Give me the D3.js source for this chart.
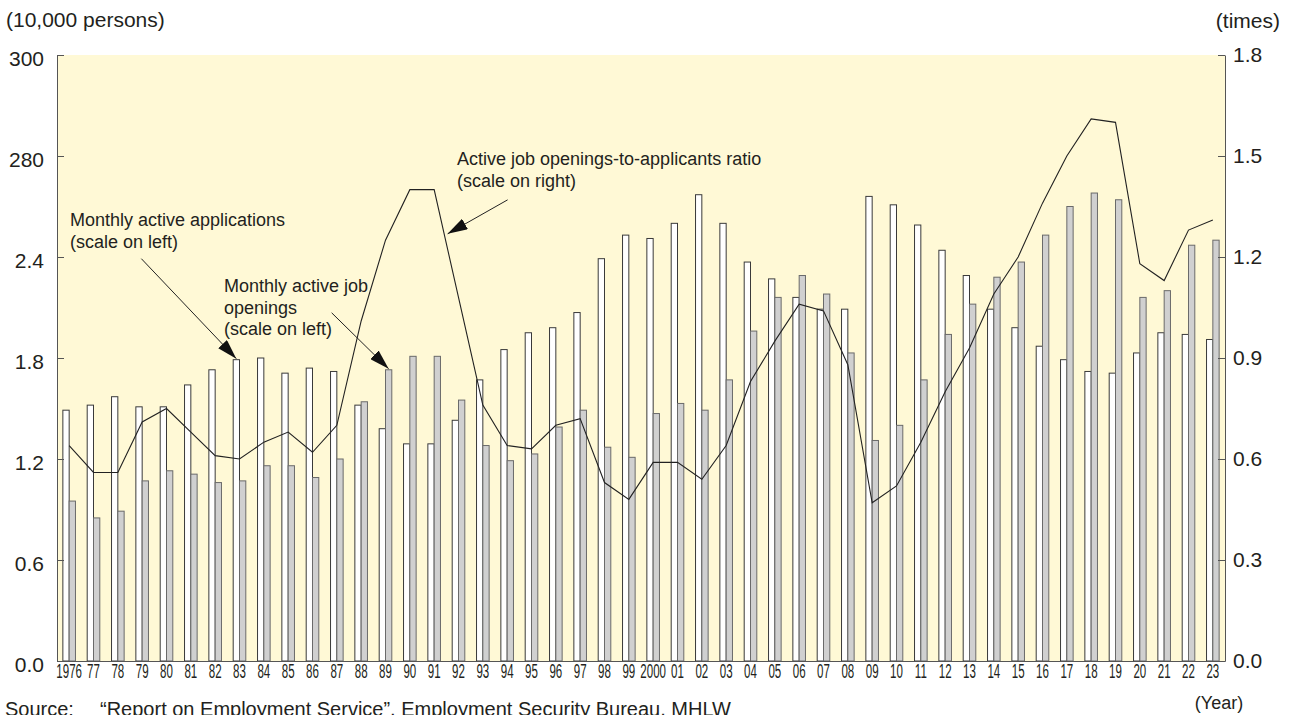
<!DOCTYPE html>
<html>
    <head>
        <title>Active job openings and applications</title>
        <script src="https://d3js.org/d3.v7.min.js"></script>
        <style>
            body {
                margin: 0;
                background-color: white;
            }
            #myCanvas text {
                font-family: "Liberation Sans", Arial, sans-serif;
                fill: #231f20;
            }
            .note {
                font-size: 18px;
            }
        </style>
    </head>

    <body>
        <svg id="myCanvas" width="1293" height="715"></svg>

        <script>
            // values, persons in units of 10,000
            years = d3.range(1976, 2024)
            yearLabels = ["1976", "77", "78", "79", "80", "81", "82", "83", "84", "85", "86", "87", "88", "89",
                          "90", "91", "92", "93", "94", "95", "96", "97", "98", "99", "2000", "01", "02", "03",
                          "04", "05", "06", "07", "08", "09", "10", "11", "12", "13", "14", "15", "16", "17",
                          "18", "19", "20", "21", "22", "23"]
            applications = [149, 152, 157, 151, 151, 164, 173, 179, 180, 171, 174, 172, 152, 138,
                            129, 129, 143, 167, 185, 195, 198, 207, 239, 253, 251, 260, 277, 260,
                            237, 227, 216, 209, 209, 276, 271, 259, 244, 229, 209, 198, 187, 179,
                            172, 171, 183, 195, 194, 191]
            openings = [95, 85, 89, 107, 113, 111, 106, 107, 116, 116, 109, 120, 154, 173,
                        181, 181, 155, 128, 119, 123, 139, 149, 127, 121, 147, 153, 149, 167,
                        196, 216, 229, 218, 183, 131, 140, 167, 194, 212, 228, 237, 253, 270,
                        278, 274, 216, 220, 247, 250]
            ratio = [0.64, 0.56, 0.56, 0.71, 0.75, 0.68, 0.61, 0.60, 0.65, 0.68, 0.62, 0.70, 1.01, 1.25,
                     1.40, 1.40, 1.08, 0.76, 0.64, 0.63, 0.70, 0.72, 0.53, 0.48, 0.59, 0.59, 0.54, 0.64,
                     0.83, 0.95, 1.06, 1.04, 0.88, 0.47, 0.52, 0.65, 0.80, 0.93, 1.09, 1.20, 1.36, 1.50,
                     1.61, 1.60, 1.18, 1.13, 1.28, 1.31]

            leftTicks = [0, 60, 120, 180, 240, 300, 360]
            leftTickLabels = ["0.0", "0.6", "1.2", "1.8", "2.4", "280", "300"]
            rightTicks = [0, 0.3, 0.6, 0.9, 1.2, 1.5, 1.8]

            svg = d3.select("#myCanvas")

            // plot box (window.top is read-only, so use own names)
            pLeft = 57; pRight = 1225; pTop = 55; pBottom = 661;

            x = d3.scaleBand(years, [pLeft, pRight])
            sub = d3.scaleBand(["app", "open"], [0, x.bandwidth()]).paddingInner(0).paddingOuter(0.93)
            yL = d3.scaleLinear([0, 360], [pBottom, pTop])
            yR = d3.scaleLinear([0, 1.8], [pBottom, pTop])

            svg.append("rect")
                .attr("x", pLeft).attr("y", pTop)
                .attr("width", pRight - pLeft).attr("height", pBottom - pTop)
                .attr("fill", "#fff9d6")

            // bars
            g = svg.append("g")
            g.selectAll(".app")
                .data(years)
                .join("rect")
                .attr("class", "app")
                .attr("x", d => x(d) + sub("app"))
                .attr("y", (d, i) => yL(applications[i]))
                .attr("width", sub.bandwidth())
                .attr("height", (d, i) => pBottom - yL(applications[i]))
                .attr("fill", "white")
                .attr("stroke", "#3a3a3a")
                .attr("stroke-width", 1)

            g.selectAll(".open")
                .data(years)
                .join("rect")
                .attr("class", "open")
                .attr("x", d => x(d) + sub("open"))
                .attr("y", (d, i) => yL(openings[i]))
                .attr("width", sub.bandwidth())
                .attr("height", (d, i) => pBottom - yL(openings[i]))
                .attr("fill", "#d0d0d0")
                .attr("stroke", "#6a6a6a")
                .attr("stroke-width", 1)

            // ratio line
            line = d3.line()
                .x((d, i) => x(years[i]) + x.bandwidth() / 2)
                .y(d => yR(d))
            svg.append("path")
                .datum(ratio)
                .attr("d", line)
                .attr("fill", "none")
                .attr("stroke", "#222")
                .attr("stroke-width", 1.1)

            // axes
            axL = svg.append("g")
                .attr("transform", "translate(" + pLeft + ",0)")
                .call(d3.axisLeft(yL).tickValues(leftTicks)
                    .tickFormat((d, i) => leftTickLabels[i])
                    .tickSizeInner(-7).tickSizeOuter(0).tickPadding(13))
            axL.selectAll("text").attr("dy", "0.5em")

            axR = svg.append("g")
                .attr("transform", "translate(" + pRight + ",0)")
                .call(d3.axisRight(yR).tickValues(rightTicks)
                    .tickFormat(d3.format(".1f"))
                    .tickSizeInner(-7).tickSizeOuter(0).tickPadding(8))

            axB = svg.append("g")
                .attr("transform", "translate(0," + pBottom + ")")
                .call(d3.axisBottom(x).tickSize(0).tickPadding(2)
                    .tickFormat((d, i) => yearLabels[i]))
            axB.selectAll("text")
                .attr("transform", "scale(0.55,1)")
                .style("font-size", "21px")

            svg.selectAll(".domain").attr("stroke", "#555")
            svg.selectAll(".tick line").attr("stroke", "#555")
            axL.selectAll("text").style("font-size", "21px")
            axR.selectAll("text").style("font-size", "21px")

            // titles
            svg.append("text").attr("x", 6).attr("y", 27).style("font-size", "21px").text("(10,000 persons)")
            svg.append("text").attr("x", 1280).attr("y", 28).attr("text-anchor", "end")
                .style("font-size", "21px").text("(times)")
            svg.append("text").attr("x", 1219).attr("y", 709).attr("text-anchor", "middle")
                .style("font-size", "18px").text("(Year)")

            src = svg.append("text").attr("x", 5).attr("y", 716).style("font-size", "20px")
            src.append("tspan").text("Source:")
            src.append("tspan").attr("x", 100).text("\u201cReport on Employment Service\u201d, Employment Security Bureau, MHLW")

            // annotations with arrows
            svg.append("defs").append("marker")
                .attr("id", "head")
                .attr("viewBox", "0 0 20 12")
                .attr("refX", 20).attr("refY", 6)
                .attr("markerWidth", 20).attr("markerHeight", 12)
                .attr("markerUnits", "userSpaceOnUse")
                .attr("orient", "auto")
                .append("path")
                .attr("d", "M0,0L20,6L0,12Z")
                .attr("fill", "#111")

            function note(lines, tx, ty, tip, dx, dy) {
                t = svg.append("text").attr("class", "note")
                lines.forEach((s, i) => {
                    t.append("tspan").attr("x", tx).attr("y", ty + i * 21.7).text(s)
                })
                svg.append("line")
                    .attr("x1", tip[0] + dx).attr("y1", tip[1] + dy)
                    .attr("x2", tip[0]).attr("y2", tip[1])
                    .attr("stroke", "#222").attr("stroke-width", 1)
                    .attr("marker-end", "url(#head)")
            }

            i83 = years.indexOf(1983)
            tip1 = [x(1983) + sub("app") + sub.bandwidth() / 2, yL(applications[i83]) - 1]
            note(["Monthly active applications", "(scale on left)"], 70, 226, tip1, -95, -100)

            i89 = years.indexOf(1989)
            tip2 = [x(1989) + sub("open") + sub.bandwidth() / 2, yL(openings[i89]) - 1]
            note(["Monthly active job", "openings", "(scale on left)"], 224, 292, tip2, -57, -56)

            i91 = years.indexOf(1991)
            c91 = x(1991) + x.bandwidth() / 2
            tip3 = [c91 + x.bandwidth() * 0.43 + 3, yR(ratio[i91] + (ratio[i91 + 1] - ratio[i91]) * 0.41)]
            note(["Active job openings-to-applicants ratio", "(scale on right)"], 457, 165, tip3, 60, -34)
        </script>
    </body>
</html>
